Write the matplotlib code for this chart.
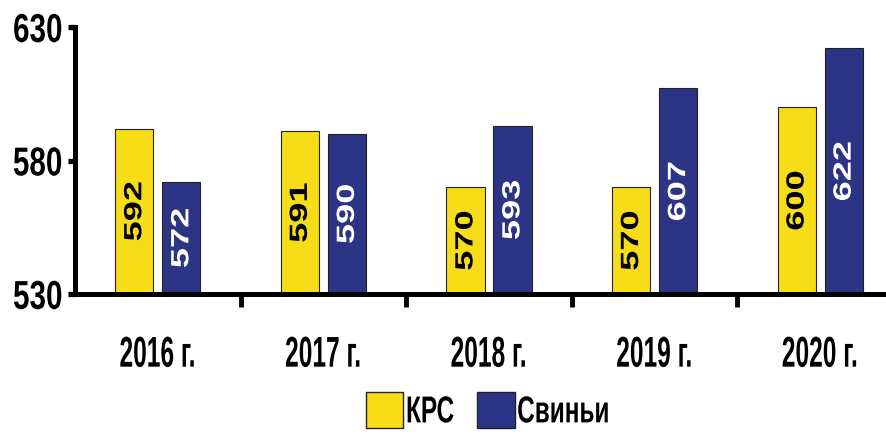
import matplotlib.pyplot as plt
import numpy as np
from matplotlib.patches import Patch
from matplotlib.patheffects import AbstractPathEffect
from matplotlib.transforms import Affine2D

years = ['2016 г.', '2017 г.', '2018 г.', '2019 г.', '2020 г.']
krs = [592, 591, 570, 570, 600]
pigs = [572, 590, 593, 607, 622]
series_names = ['КРС', 'Свиньи']

yellow = '#F6DD18'
navy = '#2C3485'
font = 'Liberation Sans'


class Squeeze(AbstractPathEffect):
    # scale the drawn glyphs in display space (narrow / tall look)
    def __init__(self, sx=1.0, sy=1.0, anchor='center'):
        super().__init__()
        self.sx, self.sy, self.anchor = sx, sy, anchor

    def draw_path(self, renderer, gc, tpath, affine, rgbFace=None):
        bb = tpath.get_extents(affine)
        if self.anchor == 'right':
            cx = bb.x1
        elif self.anchor == 'left':
            cx = bb.x0
        else:
            cx = (bb.x0 + bb.x1) / 2
        cy = (bb.y0 + bb.y1) / 2
        t = affine + Affine2D().translate(-cx, -cy).scale(self.sx, self.sy).translate(cx, cy)
        renderer.draw_path(gc, tpath, t, rgbFace)


fig = plt.figure(figsize=(8.86, 4.39), dpi=100)
ax = fig.add_axes([0.0847, 0.328, 0.912, 0.608])

x = np.arange(len(years))
w = 0.23
off = 0.142
ax.bar(x - off, np.array(krs) - 530, w, bottom=530, color=yellow, edgecolor='#222222', linewidth=0.8)
ax.bar(x + off, np.array(pigs) - 530, w, bottom=530, color=navy, edgecolor='#222222', linewidth=0.8)

for xi, v in zip(x, krs):
    ax.text(xi - off, (530 + v) / 2, str(v), rotation=90, ha='center', va='center',
            fontsize=18, fontweight='bold', color='black', family=font,
            path_effects=[Squeeze(1.0, 1.45)])
for xi, v in zip(x, pigs):
    ax.text(xi + off, (530 + v) / 2, str(v), rotation=90, ha='center', va='center',
            fontsize=18, fontweight='bold', color='white', family=font,
            path_effects=[Squeeze(1.0, 1.45)])

ax.set_ylim(530, 630)
ax.set_xlim(-0.5, 4.38)
ax.set_yticks([530, 580, 630])
ax.set_yticklabels(['530', '580', '630'], fontsize=22, fontweight='bold', family=font)
ax.set_xticks(x)
ax.set_xticklabels(years, fontsize=31, fontweight='bold', family=font)
ax.set_xticks(np.arange(0.5, 4.0, 1.0), minor=True)
ax.tick_params(axis='x', which='major', length=0, pad=30)
ax.tick_params(axis='x', which='minor', length=9, width=3.5, direction='out')
ax.tick_params(axis='y', length=5, width=3.8, pad=4)
for lab in ax.get_yticklabels():
    lab.set_path_effects([Squeeze(0.97, 1.32, 'right')])
for lab in ax.get_xticklabels():
    lab.set_path_effects([Squeeze(0.57, 1.0)])

for s in ['top', 'right']:
    ax.spines[s].set_visible(False)
for s in ['left', 'bottom']:
    ax.spines[s].set_linewidth(3.6)

handles = [Patch(facecolor=yellow, edgecolor='#222222'), Patch(facecolor=navy, edgecolor='#222222')]
leg = fig.legend(handles, series_names, loc='center left', bbox_to_anchor=(347 / 886, 1 - 412 / 439),
                 ncol=2, frameon=False, borderpad=0,
                 prop={'family': font, 'weight': 'bold', 'size': 27},
                 handlelength=1.0, handleheight=1.1, handletextpad=0.05, columnspacing=-0.05)
for t in leg.get_texts():
    t.set_path_effects([Squeeze(0.65, 1.0, 'left')])

fig.savefig('out.png', dpi=100)
